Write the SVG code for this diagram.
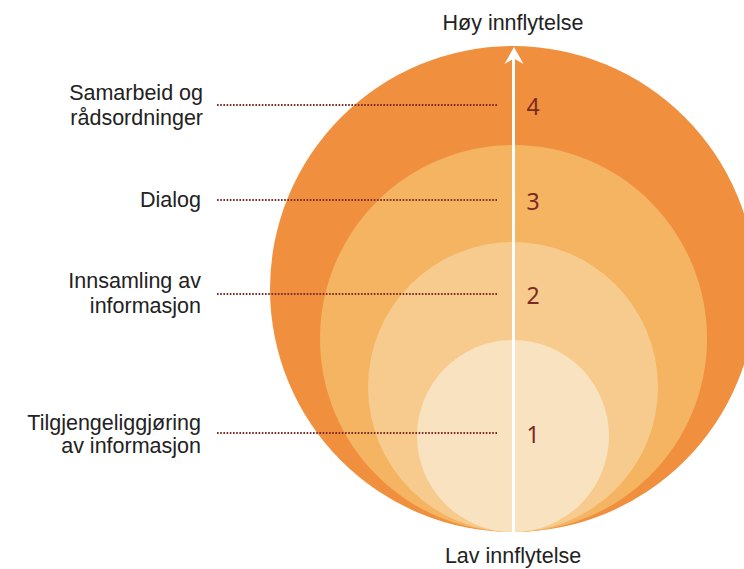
<svg xmlns="http://www.w3.org/2000/svg" width="744" height="569" viewBox="0 0 744 569">
<style>
.lbl{font-family:"Liberation Sans",Arial,sans-serif;font-size:21.5px;fill:#222;text-anchor:end}
.axis{font-family:"Liberation Sans",Arial,sans-serif;font-size:21.5px;fill:#222;text-anchor:middle}
.num{font-family:"Noto Sans","Open Sans",sans-serif;font-size:23px;fill:#7b2a24;text-anchor:middle}
.dot{stroke:#7b2a24;stroke-width:2;stroke-dasharray:1.6 1.6;fill:none}
</style>
<rect width="744" height="569" fill="#ffffff"/>
<g id="level4"><circle cx="513" cy="289" r="243" fill="#f0903e"/></g>
<g id="level3"><circle cx="513.5" cy="338.5" r="193.5" fill="#f4b461"/></g>
<g id="level2"><circle cx="513" cy="387" r="145" fill="#f7cb8d"/></g>
<g id="level1"><circle cx="513" cy="436" r="96" fill="#f9e2c0"/></g>
<g id="axis">
<line x1="513.5" y1="532" x2="513.5" y2="56" stroke="#ffffff" stroke-width="3"/>
<polygon points="514,47 523.5,64 514,58.5 504.5,64" fill="#ffffff"/>
<text class="axis" x="513" y="30">Høy innflytelse</text>
<text class="axis" x="513" y="563">Lav innflytelse</text>
</g>
<g id="connectors">
<line class="dot" x1="217" y1="105" x2="498" y2="105"/>
<line class="dot" x1="217" y1="200" x2="498" y2="200"/>
<line class="dot" x1="217" y1="294" x2="498" y2="294"/>
<line class="dot" x1="217" y1="433" x2="498" y2="433"/>
</g>
<g id="label4"><text class="lbl" x="203" y="100">Samarbeid og</text><text class="lbl" x="203" y="125">rådsordninger</text><text class="num" x="533" y="115">4</text></g>
<g id="label3"><text class="lbl" x="201" y="207">Dialog</text><text class="num" x="533" y="210">3</text></g>
<g id="label2"><text class="lbl" x="201" y="288">Innsamling av</text><text class="lbl" x="201" y="313">informasjon</text><text class="num" x="533" y="304">2</text></g>
<g id="label1"><text class="lbl" x="201" y="430">Tilgjengeliggjøring</text><text class="lbl" x="201" y="453">av informasjon</text><text class="num" x="533" y="443">1</text></g>
</svg>
